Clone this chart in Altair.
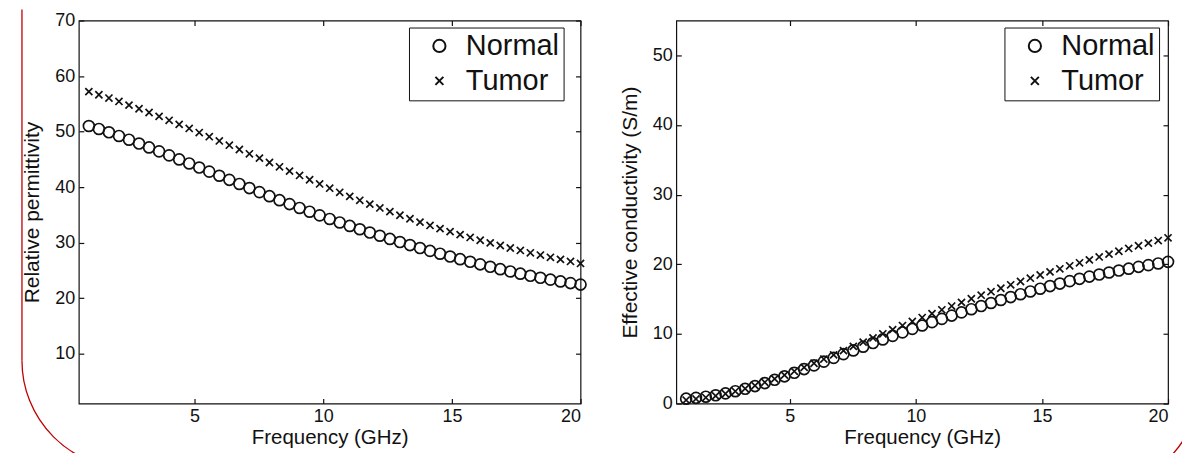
import math
import altair as alt
import pandas as pd

FREQ = [0.89, 1.28, 1.67, 2.06, 2.45, 2.84, 3.23, 3.62, 4.01, 4.40,
        4.79, 5.18, 5.57, 5.96, 6.35, 6.74, 7.13, 7.52, 7.91, 8.30,
        8.69, 9.08, 9.47, 9.86, 10.25, 10.64, 11.03, 11.42, 11.81, 12.20,
        12.59, 12.98, 13.37, 13.76, 14.15, 14.54, 14.93, 15.32, 15.71, 16.10,
        16.49, 16.88, 17.27, 17.66, 18.05, 18.44, 18.83, 19.22, 19.61, 20.00]

PERM_NORMAL = [51.0, 50.47, 49.87, 49.21, 48.53, 47.84, 47.14, 46.43, 45.71, 44.98,
               44.25, 43.52, 42.78, 42.04, 41.30, 40.56, 39.82, 39.09, 38.36, 37.64,
               36.93, 36.24, 35.56, 34.90, 34.25, 33.62, 33.00, 32.40, 31.81, 31.23,
               30.66, 30.10, 29.55, 29.02, 28.50, 27.99, 27.49, 27.01, 26.54, 26.08,
               25.64, 25.21, 24.80, 24.40, 24.02, 23.66, 23.32, 23.00, 22.70, 22.43]

PERM_TUMOR = [57.2, 56.63, 56.04, 55.42, 54.77, 54.11, 53.43, 52.74, 52.03, 51.30,
              50.56, 49.82, 49.07, 48.31, 47.54, 46.77, 45.99, 45.21, 44.43, 43.65,
              42.87, 42.09, 41.32, 40.56, 39.80, 39.06, 38.33, 37.62, 36.92, 36.24,
              35.57, 34.92, 34.29, 33.68, 33.09, 32.52, 31.97, 31.44, 30.92, 30.42,
              29.94, 29.47, 29.02, 28.58, 28.16, 27.75, 27.35, 26.97, 26.60, 26.24]

COND_NORMAL = [0.70, 0.82, 0.98, 1.19, 1.46, 1.77, 2.12, 2.51, 2.94, 3.41,
               3.91, 4.42, 4.95, 5.48, 6.02, 6.56, 7.10, 7.63, 8.16, 8.69,
               9.21, 9.72, 10.22, 10.72, 11.21, 11.69, 12.16, 12.63, 13.09, 13.55,
               14.00, 14.44, 14.87, 15.29, 15.70, 16.10, 16.49, 16.87, 17.23, 17.58,
               17.91, 18.23, 18.53, 18.82, 19.10, 19.37, 19.63, 19.88, 20.12, 20.35]

COND_TUMOR = [0.50, 0.66, 0.86, 1.11, 1.41, 1.76, 2.15, 2.58, 3.05, 3.55,
              4.08, 4.63, 5.20, 5.79, 6.39, 6.99, 7.60, 8.21, 8.82, 9.42,
              10.02, 10.61, 11.20, 11.78, 12.35, 12.91, 13.46, 14.00, 14.53, 15.05,
              15.56, 16.06, 16.56, 17.05, 17.53, 18.00, 18.46, 18.91, 19.35, 19.78,
              20.21, 20.63, 21.05, 21.46, 21.87, 22.27, 22.66, 23.04, 23.41, 23.80]

SERIES = ["Normal", "Tumor"]
X_TICKS = [5, 10, 15, 20]
PERM_TICKS = [10, 20, 30, 40, 50, 60, 70]
COND_TICKS = [0, 10, 20, 30, 40, 50]

FONT = "Liberation Sans"
INK = "#111111"
RED = "#c00000"
CROSS = "M-0.65,-0.65L0.65,0.65M-0.65,0.65L0.65,-0.65"

PLOT_H = 384


def long_frame(normal, tumor):
    rows = []
    for f, v in zip(FREQ, normal):
        rows.append({"f": f, "v": v, "tissue": SERIES[0]})
    for f, v in zip(FREQ, tumor):
        rows.append({"f": f, "v": v, "tissue": SERIES[1]})
    return pd.DataFrame(rows)


def panel(df, ytitle, ydomain, yticks, w, h, lx, ly, deco):
    xs = alt.Scale(domain=[0.5, 20], nice=False, zero=False)
    ys = alt.Scale(domain=ydomain, nice=False, zero=False)
    base = alt.Chart(df)
    pts = base.mark_point(filled=False, size=120, strokeWidth=1.7, color=INK, opacity=1).encode(
        x=alt.X("f:Q", scale=xs, axis=alt.Axis(
            orient="bottom", values=X_TICKS, title="Frequency (GHz)", offset=-5, tickSize=5,
            tickColor=INK, tickWidth=1.2, domain=False, grid=False, labelPadding=4,
            titlePadding=2, labelFontSize=18, titleFontSize=20.5, labelColor=INK, titleColor=INK,
            titleFontWeight="normal", labelFont=FONT, titleFont=FONT)),
        y=alt.Y("v:Q", scale=ys, axis=alt.Axis(
            orient="left", values=yticks, title=ytitle, offset=-5, tickSize=5,
            tickColor=INK, tickWidth=1.2, domain=False, grid=False, labelPadding=4,
            titlePadding=12, labelFontSize=18, titleFontSize=21, labelColor=INK, titleColor=INK,
            titleFontWeight="normal", labelFont=FONT, titleFont=FONT)),
        shape=alt.Shape("tissue:N", scale=alt.Scale(domain=SERIES, range=["circle", CROSS]),
                        legend=alt.Legend(
                            title=None, orient="none", legendX=lx, legendY=ly,
                            strokeColor=INK, fillColor="white", padding=4,
                            symbolOffset=12, labelOffset=12, rowPadding=5,
                            labelFontSize=29, labelFont=FONT, labelColor=INK,
                            symbolSize=150, symbolStrokeWidth=2, symbolStrokeColor=INK,
                            symbolFillColor="transparent")),
    )
    ticks = base.mark_point(opacity=0).encode(
        x=alt.X("f:Q", scale=xs, axis=alt.Axis(
            orient="top", values=X_TICKS, title=None, labels=False, offset=-5, tickSize=5,
            tickColor=INK, tickWidth=1.2, domain=False, grid=False)),
        y=alt.Y("v:Q", scale=ys, axis=alt.Axis(
            orient="right", values=yticks, title=None, labels=False, offset=-5, tickSize=5,
            tickColor=INK, tickWidth=1.2, domain=False, grid=False)),
    )
    layers = [pts, ticks] + deco
    return alt.layer(*layers).resolve_axis(x="independent", y="independent").properties(
        width=w, height=h)


def arc(cx, cy, r, t1, t2):
    return alt.Chart(pd.DataFrame({"a": [0]})).mark_arc(
        filled=False, color=RED, strokeWidth=1.3).encode(
        x=alt.value(cx), y=alt.value(cy),
        theta=alt.value(t1), theta2=alt.value(t2),
        radius=alt.value(r), radius2=alt.value(r))


left_deco = [
    alt.Chart(pd.DataFrame({"a": [0]})).mark_rule(color=RED, strokeWidth=1.3).encode(
        x=alt.value(-57), y=alt.value(-11), y2=alt.value(341)),
    arc(-57 + 108, 341, 108, math.pi, 1.5 * math.pi),
]
right_deco = [arc(416, 361, 110, 2.08, 2.50)]

left = panel(long_frame(PERM_NORMAL, PERM_TUMOR), "Relative permittivity", [1, 70], PERM_TICKS,
             503, PLOT_H, 331, 7, left_deco)
right = panel(long_frame(COND_NORMAL, COND_TUMOR), "Effective conductivity (S/m)", [0, 55], COND_TICKS,
              493, PLOT_H, 329, 7, right_deco)

chart = alt.hconcat(left, right, spacing=96, bounds="flush").resolve_scale(
    shape="independent").resolve_legend(shape="independent").properties(
    padding={"left": 10, "top": -1, "right": -9, "bottom": -20}
).configure(font=FONT, background="white").configure_view(stroke=INK, strokeWidth=1.2)

chart.save("out.html", embed_options={"renderer": "svg", "actions": False})
